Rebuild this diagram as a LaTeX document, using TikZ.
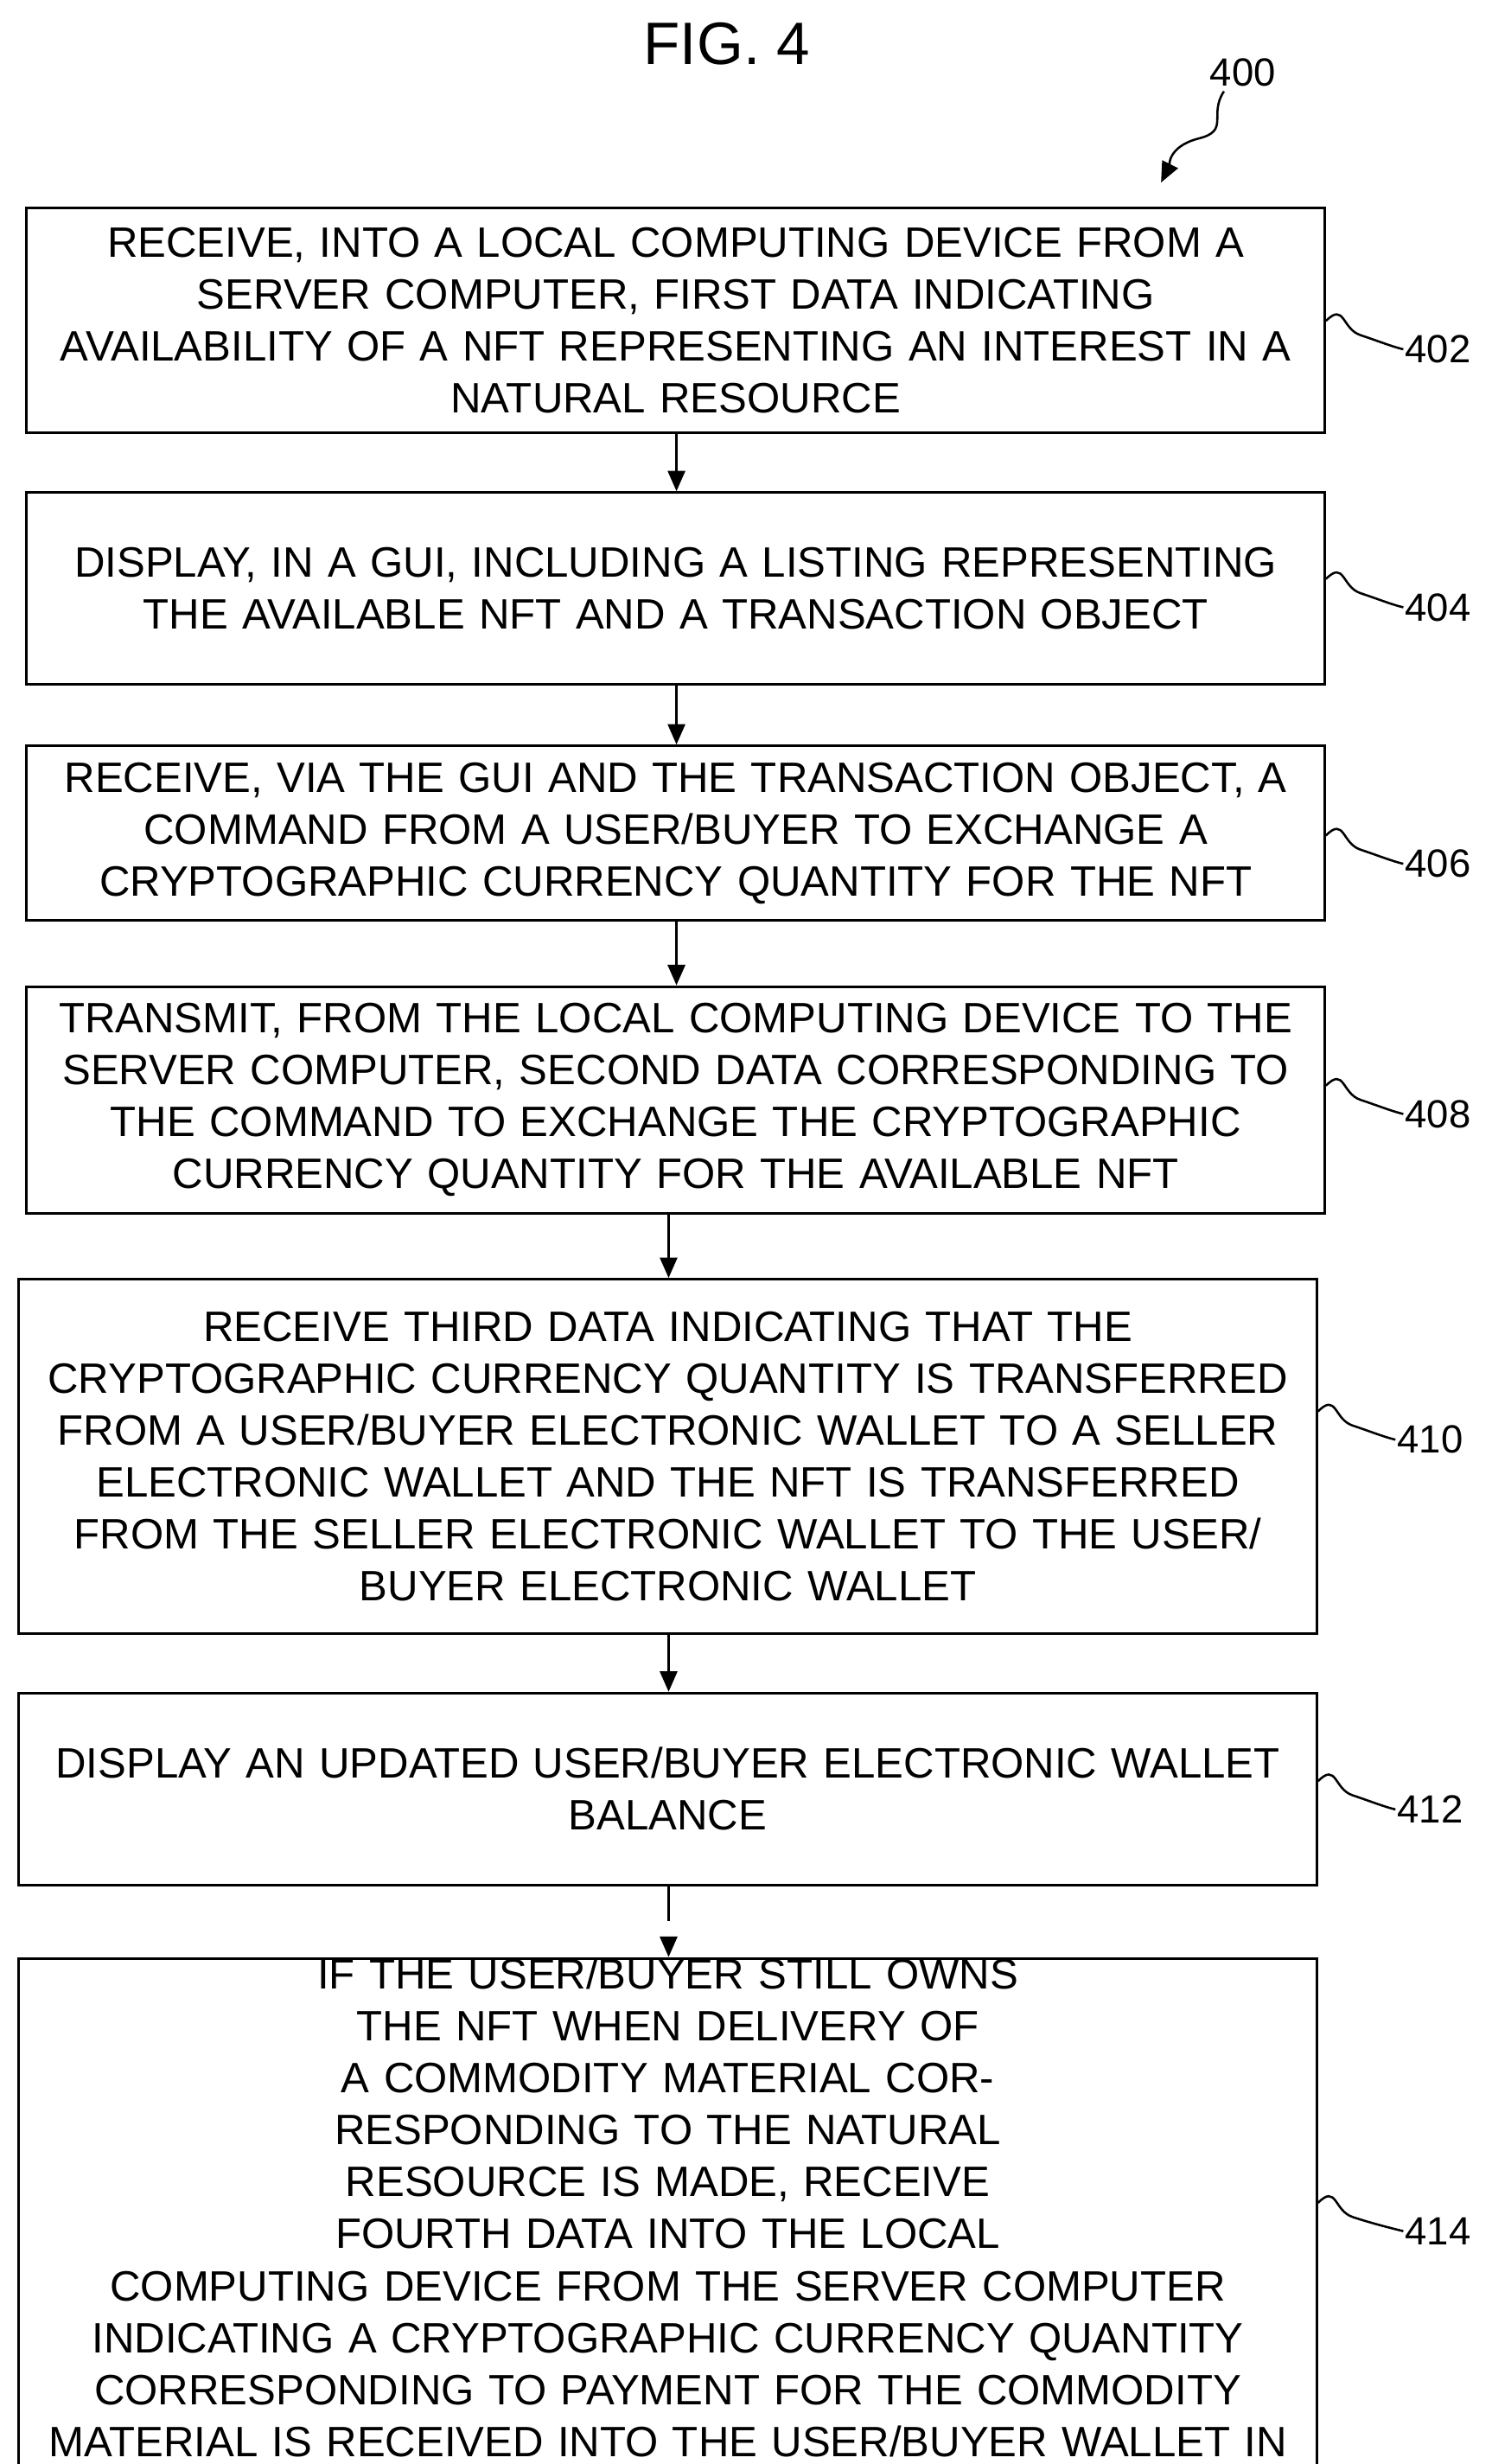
\documentclass[tikz,border=0pt]{standalone}
\usepackage{fontspec}
\setmainfont{Liberation Sans}
\usetikzlibrary{arrows.meta,calc}
\begin{document}
\begin{tikzpicture}[x=1pt,y=-1pt,
 box/.style={draw,line width=1.6pt,inner sep=0pt,align=center,font=\fontsize{27}{33}\selectfont},
 lab/.style={font=\fontsize{25}{28}\selectfont,anchor=west,inner sep=1pt},
 arr/.style={-{Triangle[length=13pt,width=11pt]},line width=1.6pt},
 sq/.style={line width=1.4pt}]
\useasboundingbox (0,0) rectangle (948,1566);
\node[font=\fontsize{38}{40}\selectfont] (fig) at (462,28) {FIG. 4};
\node[lab] (l400) at (768,46) {400};
\coordinate (t400) at (738,116);
\draw[sq,-{Triangle[length=13pt,width=11pt]}] (l400.south west)++(10,2) .. controls +(-10,15) and +(20,-5) .. (762,88) .. controls +(-20,5) and +(5,-10) .. (t400);
\node[box,minimum width=825,minimum height=143,text width=815] (b402) at (429.5,203.5) {RECEIVE, INTO A LOCAL COMPUTING DEVICE FROM A\\SERVER COMPUTER, FIRST DATA INDICATING\\AVAILABILITY OF A NFT REPRESENTING AN INTEREST IN A\\NATURAL RESOURCE};
\node[box,minimum width=825,minimum height=122,text width=815] (b404) at (429.5,374) {DISPLAY, IN A GUI, INCLUDING A LISTING REPRESENTING\\THE AVAILABLE NFT AND A TRANSACTION OBJECT};
\node[box,minimum width=825,minimum height=111,text width=815] (b406) at (429.5,529.5) {RECEIVE, VIA THE GUI AND THE TRANSACTION OBJECT, A\\COMMAND FROM A USER/BUYER TO EXCHANGE A\\CRYPTOGRAPHIC CURRENCY QUANTITY FOR THE NFT};
\node[box,minimum width=825,minimum height=144,text width=815] (b408) at (429.5,699) {TRANSMIT, FROM THE LOCAL COMPUTING DEVICE TO THE\\SERVER COMPUTER, SECOND DATA CORRESPONDING TO\\THE COMMAND TO EXCHANGE THE CRYPTOGRAPHIC\\CURRENCY QUANTITY FOR THE AVAILABLE NFT};
\node[box,minimum width=825,minimum height=225,text width=815] (b410) at (424.5,925.5) {RECEIVE THIRD DATA INDICATING THAT THE\\CRYPTOGRAPHIC CURRENCY QUANTITY IS TRANSFERRED\\FROM A USER/BUYER ELECTRONIC WALLET TO A SELLER\\ELECTRONIC WALLET AND THE NFT IS TRANSFERRED\\FROM THE SELLER ELECTRONIC WALLET TO THE USER/\\BUYER ELECTRONIC WALLET};
\node[box,minimum width=825,minimum height=122,text width=815] (b412) at (424.5,1137) {DISPLAY AN UPDATED USER/BUYER ELECTRONIC WALLET\\BALANCE};
\node[box,minimum width=825,minimum height=273,text width=815] (b414) at (424.5,1419.5) {IF THE USER/BUYER STILL OWNS THE NFT WHEN DELIVERY OF\\A COMMODITY MATERIAL CORRESPONDING TO THE NATURAL\\RESOURCE IS MADE, RECEIVE FOURTH DATA INTO THE LOCAL\\COMPUTING DEVICE FROM THE SERVER COMPUTER\\INDICATING A CRYPTOGRAPHIC CURRENCY QUANTITY\\CORRESPONDING TO PAYMENT FOR THE COMMODITY\\MATERIAL IS RECEIVED INTO THE USER/BUYER WALLET IN\\EXCHANGE FOR THE NFT};
\draw[arr] (b402.south -| 430,0) -- (b404.north -| 430,0);
\draw[arr] (b404.south -| 430,0) -- (b406.north -| 430,0);
\draw[arr] (b406.south -| 430,0) -- (b408.north -| 430,0);
\draw[arr] (b408.south -| 425,0) -- (b410.north -| 425,0);
\draw[arr] (b410.south -| 425,0) -- (b412.north -| 425,0);
\draw[arr,dash pattern=on 22pt off 12pt] (b412.south -| 425,0) -- (b414.north -| 425,0);
\foreach \b/\n/\y/\x in {b402/402/222/892, b404/404/386/892, b406/406/549/892, b408/408/708/892, b410/410/915/887, b412/412/1150/887, b414/414/1418/892}{
  \node[lab] (l\n) at (\x,\y) {\n};
  \draw[sq] (\b.east |- 0,\y-18) .. controls +(12,-12) and +(-12,-4) .. ($(\b.east |- 0,\y-9)+(22,0)$) .. controls +(12,4) and +(-8,-2) .. (l\n.west);
}
\end{tikzpicture}
\end{document}
